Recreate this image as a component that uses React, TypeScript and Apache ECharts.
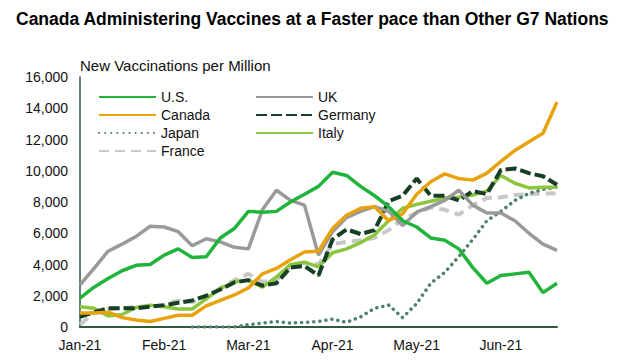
import React, { useEffect, useRef } from "react";
import * as echarts from "echarts";

// Day index (0 = Jan 1) sampled every STEP days
const STEP = 5;
const monthLabels = ["Jan-21", "Feb-21", "Mar-21", "Apr-21", "May-21", "Jun-21"];
const yTicks = [0, 2000, 4000, 6000, 8000, 10000, 12000, 14000, 16000];

const usValues = [1850, 2550, 3100, 3600, 3950, 4000, 4600, 5000, 4450, 4500, 5700, 6300, 7400, 7350, 7400, 8000, 8500, 9000, 9900, 9700, 9000, 8400, 7700, 6800, 6400, 5700, 5550, 5000, 3800, 2800, 3300, 3400, 3500, 2200, 2800];
const ukValues = [2700, 3750, 4850, 5300, 5800, 6450, 6400, 6100, 5200, 5650, 5450, 5100, 5000, 7500, 8750, 8100, 7800, 4600, 6100, 7000, 7400, 7700, 7400, 6500, 7350, 7700, 8100, 8750, 7800, 7300, 7300, 6800, 6000, 5300, 4900];
const canadaValues = [900, 900, 950, 600, 450, 350, 550, 750, 750, 1350, 1700, 2050, 2500, 3400, 3750, 4300, 4800, 4850, 6300, 7150, 7600, 7700, 6800, 7250, 8500, 9300, 9800, 9500, 9400, 9850, 10600, 11300, 11850, 12400, 14400];
const germanyValues = [650, 950, 1200, 1200, 1200, 1300, 1400, 1550, 1700, 2000, 2400, 2850, 3000, 2650, 2800, 3800, 3900, 3300, 5600, 6250, 5950, 6200, 8050, 8400, 9500, 8400, 8400, 8100, 8700, 8500, 10050, 10150, 9850, 9650, 9100];
const japanValues = [null, null, null, null, null, null, null, null, 0, 0, 0, 0, 150, 250, 350, 250, 300, 350, 500, 300, 650, 1200, 1400, 600, 1500, 2800, 3500, 4500, 5600, 6800, 7400, 8100, 8550, 8800, 8950];
const italyValues = [1300, 1200, 700, 800, 1250, 1400, 1300, 1150, 1150, 1800, 2450, 2900, 3000, 2550, 3200, 4000, 4150, 3850, 4750, 5000, 5400, 5900, 6800, 7600, 7850, 8050, 8250, 8300, 8450, 8700, 9700, 9200, 8900, 8950, 8950];
const franceValues = [150, 900, 1150, 1200, 1300, 1300, 1400, 1700, 1600, 1850, 2500, 3000, 3400, 2900, 3000, 3900, 4100, 4000, 5300, 5450, 5550, 5700, 6200, 6900, 7300, 7650, 7500, 7200, 7800, 8250, 8300, 8450, 8500, 8550, 8550];

const FONT = "'Liberation Sans', Arial, sans-serif";

function toPoints(values: (number | null)[]) {
  const pts: [number, number][] = [];
  values.forEach((v, i) => {
    if (v !== null) pts.push([i * STEP, v]);
  });
  return pts;
}

export default function App() {
  const ref = useRef<HTMLDivElement>(null);
  useEffect(() => {
    if (!ref.current) return;
    const chart = echarts.init(ref.current, null, { renderer: "svg" });
    const mk = (name: string, values: (number | null)[], color: string, width: number, type: any, extra: any = {}) => ({
      name,
      type: "line",
      data: toPoints(values),
      showSymbol: false,
      symbol: "none",
      legendIcon: "none",
      lineStyle: { color, width, type, ...extra },
      itemStyle: { color },
      z: 2,
    });
    const xMax = (usValues.length - 1) * STEP;
    const legendBase = {
      orient: "vertical",
      top: 90,
      itemWidth: 57,
      itemHeight: 14,
      itemGap: 4,
      padding: 0,
      itemStyle: { opacity: 0, borderWidth: 0 },
      textStyle: { fontFamily: FONT, fontSize: 14, color: "#111" },
    };
    chart.setOption({
      animation: false,
      backgroundColor: "#fff",
      graphic: [
        {
          type: "text",
          left: 16,
          top: 10,
          style: {
            text: "Canada Administering Vaccines at a Faster pace than Other G7 Nations",
            font: `bold 17.5px ${FONT}`,
            fill: "#000",
          },
        },
        {
          type: "text",
          left: 80,
          top: 58,
          style: { text: "New Vaccinations per Million", font: `15px ${FONT}`, fill: "#111" },
        },
      ],
      legend: [
        { ...legendBase, data: ["U.S.", "Canada", "Japan", "France"], left: 98 },
        { ...legendBase, data: ["UK", "Germany", "Italy"], left: 255 },
      ],
      grid: { left: 80, right: 63, top: 77, bottom: 36, containLabel: false },
      xAxis: {
        type: "value",
        min: 0,
        max: xMax,
        interval: 30,
        axisLine: { show: true, lineStyle: { color: "#2f5a3a", width: 2 } },
        axisTick: { show: false },
        splitLine: { show: false },
        axisLabel: {
          margin: 11,
          fontFamily: FONT,
          fontSize: 14,
          color: "#111",
          formatter: (v: number) => (v % 30 === 0 && v / 30 < monthLabels.length ? monthLabels[v / 30] : ""),
        },
      },
      yAxis: {
        type: "value",
        min: yTicks[0],
        max: yTicks[yTicks.length - 1],
        interval: yTicks[1] - yTicks[0],
        axisLine: { show: true, lineStyle: { color: "#2f5a3a", width: 1.5 } },
        axisTick: { show: false },
        splitLine: { show: false },
        axisLabel: {
          margin: 12,
          fontFamily: FONT,
          fontSize: 14,
          color: "#111",
          formatter: (v: number) => v.toLocaleString("en-US"),
        },
      },
      series: [
        mk("France", franceValues, "#c8c8c8", 4, [10, 6]),
        mk("Japan", japanValues, "#4f8070", 3.5, [0.1, 6], { cap: "round" }),
        mk("Italy", italyValues, "#8cc63f", 3.5, "solid"),
        mk("Germany", germanyValues, "#173f25", 4, [11, 4]),
        mk("UK", ukValues, "#9a9a9a", 3.5, "solid"),
        mk("Canada", canadaValues, "#e8a20c", 3.5, "solid"),
        mk("U.S.", usValues, "#20b43a", 3.5, "solid"),
      ],
    });
    return () => chart.dispose();
  }, []);
  return <div ref={ref} style={{ width: 620, height: 363, margin: -8 }} />;
}
